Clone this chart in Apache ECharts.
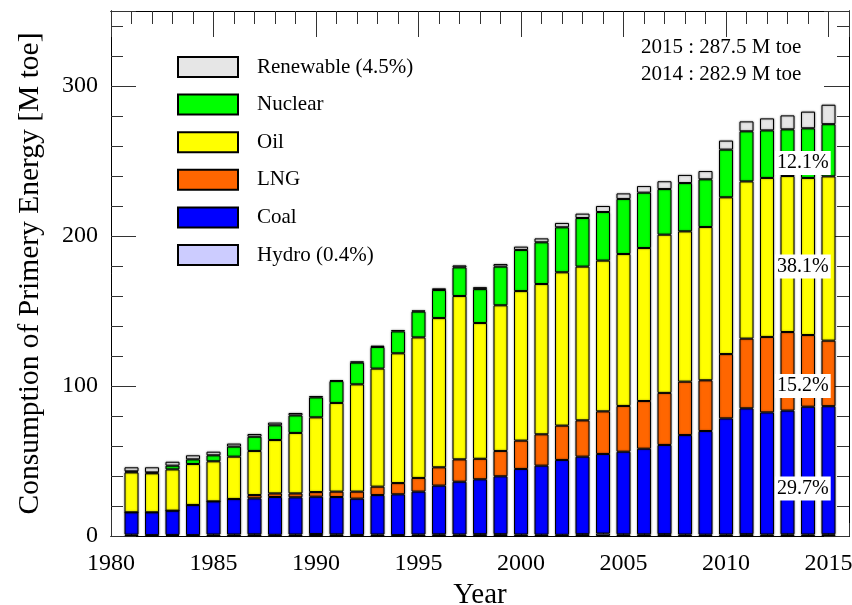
<!DOCTYPE html>
<html>
<head>
<meta charset="utf-8">
<script src="https://cdn.jsdelivr.net/npm/echarts@6/dist/echarts.min.js"></script>
<style>
  html, body { margin: 0; padding: 0; background: #fff; }
  #chart { width: 852px; height: 605px; }
</style>
</head>
<body>
<div id="chart"></div>
<script>
// Primary energy consumption by source, M toe per year
const years = [1981,1982,1983,1984,1985,1986,1987,1988,1989,1990,1991,1992,1993,1994,1995,1996,1997,1998,1999,2000,2001,2002,2003,2004,2005,2006,2007,2008,2009,2010,2011,2012,2013,2014,2015];
const hydro = [0.9,0.6,0.7,0.6,1.0,1.0,1.1,0.8,1.0,1.3,1.1,0.7,1.0,0.6,1.0,1.1,1.0,1.2,1.2,1.0,0.9,0.8,1.2,1.6,1.1,1.1,1.2,1.0,0.9,1.0,1.2,1.0,1.1,1.0,1.15];
const coal = [14.9,15.2,16.2,20.1,22.1,23.7,24.0,25.2,24.8,24.9,24.9,24.2,26.3,27.2,28.6,32.5,35.2,36.6,38.6,43.7,46.0,49.9,51.7,53.1,55.1,57.1,59.5,66.3,69.1,77.4,83.9,81.4,82.5,85.2,85.4];
const lng = [0,0,0,0,0,0,2.2,2.4,2.6,3.1,3.6,4.7,5.6,7.5,9.1,12.2,14.9,13.7,16.9,18.9,20.9,22.9,24.2,28.4,30.5,31.8,34.7,35.6,33.8,42.9,46.5,50.3,52.4,47.8,43.7];
const oil = [26.6,26.0,27.5,27.3,26.7,28.2,29.4,35.6,40.3,49.8,59.1,71.5,78.7,86.5,93.7,99.5,108.9,90.5,97.1,99.7,100.2,102.2,102.5,100.5,101.3,102.0,105.5,100.2,102.2,104.5,104.8,106.0,104.0,104.7,109.5];
const nuclear = [0.7,0.6,2.5,3.1,4.0,6.7,9.5,9.8,11.7,13.3,14.6,14.5,14.4,14.6,17.2,18.7,19.1,22.6,25.8,27.4,27.8,30.0,32.4,32.4,36.7,36.9,30.4,32.2,31.8,31.8,33.4,31.7,31.1,33.1,34.8];
const renewable = [2.7,3.4,2.6,2.7,2.4,2.0,1.8,1.8,1.6,0.9,0.7,0.8,0.9,0.9,0.8,1.1,1.3,1.3,1.7,2.2,2.6,2.9,2.9,4.0,3.7,4.4,5.2,5.4,5.5,6.0,6.6,8.0,9.3,11.1,12.95];

const seriesNames = ['Hydro (0.4%)', 'Coal', 'LNG', 'Oil', 'Nuclear', 'Renewable (4.5%)'];
const legendOrder = ['Renewable (4.5%)', 'Nuclear', 'Oil', 'LNG', 'Coal', 'Hydro (0.4%)'];
const totalsNote = ['2015 : 287.5 M toe', '2014 : 282.9 M toe'];
const yTickLabels = [0, 100, 200, 300];

const colors = {
  'Hydro (0.4%)': '#ccccff',
  'Coal': '#0000ff',
  'LNG': '#ff6600',
  'Oil': '#ffff00',
  'Nuclear': '#00ff00',
  'Renewable (4.5%)': '#e6e6e6'
};
const valueSets = [hydro, coal, lng, oil, nuclear, renewable];

const FONT = '"Liberation Serif", "DejaVu Serif", serif';
const X_MIN = 1980, X_MAX = 2016;
const chart = echarts.init(document.getElementById('chart'));

// Category slots, one per year from X_MIN to X_MAX, placed on the tick points
const slots = [];
for (let y = X_MIN; y <= X_MAX; y++) slots.push(String(y));
function slotValues(arr) {
  return slots.map(s => {
    const k = years.indexOf(Number(s));
    return k < 0 ? null : arr[k];
  });
}

const barSeries = seriesNames.map((name, i) => ({
  name,
  type: 'bar',
  stack: 'energy',
  xAxisIndex: 4,
  yAxisIndex: 0,
  barWidth: 14,
  itemStyle: {
    color: colors[name],
    borderColor: '#000',
    borderWidth: 1,
    shadowColor: 'rgba(0,0,0,0.45)',
    shadowBlur: 2
  },
  emphasis: { disabled: true },
  data: slotValues(valueSets[i])
}));

// Shares of the latest year, written beside its bar
const lastIdx = years.length - 1;
const lastTotal = valueSets.reduce((s, arr) => s + arr[lastIdx], 0);
const shareSources = [coal, lng, oil, nuclear];
const shareLabelY = [31.7, 100, 179.7, 248.7];
const shareLabelX = 2013.75;
const shareSeries = {
  type: 'scatter',
  xAxisIndex: 0,
  yAxisIndex: 0,
  symbolSize: 0,
  silent: true,
  z: 10,
  itemStyle: { opacity: 1 },
  label: {
    show: true,
    position: 'inside',
    formatter: p => (p.data[2]).toFixed(1) + '%',
    fontFamily: FONT,
    fontSize: 20,
    color: '#000',
    opacity: 1,
    backgroundColor: '#fff',
    padding: [3, 2, 1, 2]
  },
  data: shareSources.map((arr, i) => [shareLabelX, shareLabelY[i], arr[lastIdx] / lastTotal * 100])
};

const tickStyle = { color: '#333', width: 1 };
const lineStyle = { color: '#000', width: 1 };

function xAx(pos, interval, len, labels) {
  return {
    type: 'value', position: pos, min: X_MIN, max: X_MAX, interval,
    axisLine: { show: true, onZero: false, lineStyle },
    axisTick: { show: true, inside: true, length: len, lineStyle: tickStyle },
    axisLabel: labels ? {
      show: true, fontFamily: FONT, fontSize: 24, color: '#000', margin: 16,
      showMaxLabel: false, formatter: v => String(v)
    } : { show: false },
    splitLine: { show: false }
  };
}
function yAx(pos, interval, len, labels) {
  return {
    type: 'value', position: pos, min: 0, max: 350, interval,
    axisLine: { show: true, onZero: false, lineStyle },
    axisTick: { show: true, inside: true, length: len, lineStyle: tickStyle },
    axisLabel: labels ? {
      show: true, fontFamily: FONT, fontSize: 24, color: '#000', margin: 13,
      formatter: v => (yTickLabels.includes(v) ? String(v) : '')
    } : { show: false },
    splitLine: { show: false }
  };
}

const xMain = xAx('bottom', 5, 26, true);
xMain.name = 'Year';
xMain.nameLocation = 'middle';
xMain.nameGap = 45;
xMain.nameTextStyle = { fontFamily: FONT, fontSize: 29, color: '#000' };

const yMain = yAx('left', 100, 25, true);
yMain.name = 'Consumption of Primery Energy [M toe]';
yMain.nameLocation = 'middle';
yMain.nameGap = 66;
yMain.nameTextStyle = { fontFamily: FONT, fontSize: 29.5, color: '#000' };

const barAxis = {
  type: 'category', position: 'bottom', data: slots, boundaryGap: false,
  show: false
};

const option = {
  animation: false,
  backgroundColor: '#fff',
  grid: { left: 111, right: 3, top: 11, bottom: 69, containLabel: false, outerBoundsMode: 'none' },
  xAxis: [
    xMain,
    xAx('bottom', 1, 13, false),
    xAx('top', 5, 26, false),
    xAx('top', 1, 13, false),
    barAxis
  ],
  yAxis: [
    yMain,
    yAx('left', 20, 12, false),
    yAx('right', 100, 25, false),
    yAx('right', 20, 12, false)
  ],
  legend: {
    orient: 'vertical',
    left: 172,
    top: 51,
    data: legendOrder,
    icon: 'rect',
    itemWidth: 60,
    itemHeight: 20,
    itemGap: 15.6,
    selectedMode: false,
    textStyle: { fontFamily: FONT, fontSize: 21, color: '#000', padding: [0, 0, 0, 14] }
  },
  graphic: totalsNote.map((t, i) => ({
    type: 'text',
    left: 641,
    top: 37 + i * 27,
    style: { text: t, font: '21px ' + FONT, fill: '#000' }
  })),
  series: [...barSeries, shareSeries]
};

chart.setOption(option);
</script>
</body>
</html>
